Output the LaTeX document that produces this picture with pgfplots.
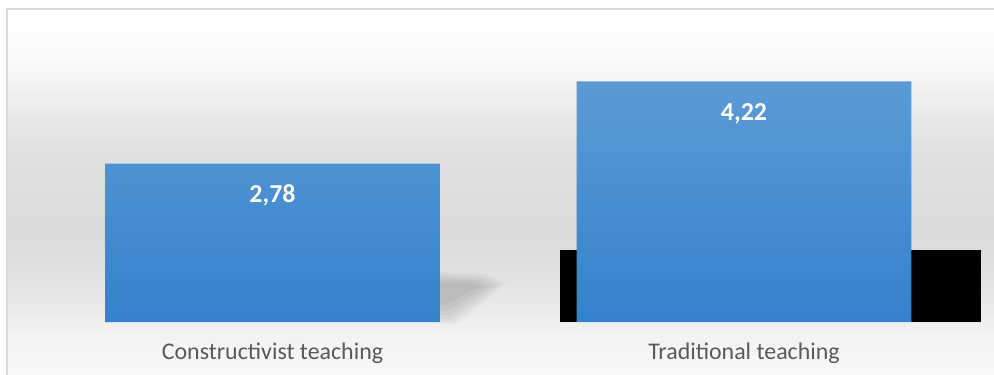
\documentclass[border=0pt]{standalone}
\usepackage{pgfplots}
\pgfplotsset{compat=1.18}
\usepackage{fontspec}
\setmainfont{Carlito}
\definecolor{labelgray}{HTML}{595959}
\definecolor{frameline}{HTML}{D9D9D9}
\definecolor{barTop}{HTML}{5B9BD6}
\definecolor{barMid}{HTML}{5396D4}
\definecolor{barBot}{HTML}{3482CB}
\pgfdeclareverticalshading{bgshade}{100bp}{%
 rgb(0bp)=(0.972,0.972,0.972);
 rgb(27.6bp)=(0.972,0.972,0.972);
 rgb(32.66bp)=(0.953,0.953,0.953);
 rgb(37.21bp)=(0.91,0.91,0.91);
 rgb(45.65bp)=(0.851,0.851,0.851);
 rgb(56.69bp)=(0.878,0.878,0.878);
 rgb(68.38bp)=(0.98,0.98,0.98);
 rgb(75bp)=(1,1,1);
 rgb(100bp)=(1,1,1)}
\begin{document}
\begin{tikzpicture}[x=1bp,y=1bp]
\useasboundingbox (0,0) rectangle (994,374);
\fill[white] (0,0) rectangle (994,374);
\shade[shading=bgshade] (7,-20) rectangle (1010,365);
\draw[frameline, line width=1.2bp] (7,-20) -- (7,365) -- (1010,365);
\begin{axis}[
  at={(36.75bp,52bp)}, anchor=south west,
  scale only axis, width=943bp, height=285bp,
  xmin=-0.5, xmax=1.5, ymin=0, ymax=5,
  axis line style={draw=none}, tick style={draw=none},
  ytick=\empty,
  xtick={0,1},
  xticklabels={Constructivist teaching, Traditional teaching},
  xticklabel style={anchor=base, yshift=-37bp, font=\fontsize{24}{28}\selectfont, text=labelgray},
  clip=false,
]
% soft shadow of the first bar (layered to look blurred)
\begin{scope}[black, opacity=0.03]
\fill (axis cs:0.355,-0.02) -- (axis cs:0.355,0.88) -- (axis cs:0.455,0.84) -- (axis cs:0.495,0.68) -- (axis cs:0.39,-0.04) -- cycle;
\fill (axis cs:0.355,0.0) -- (axis cs:0.355,0.84) -- (axis cs:0.45,0.80) -- (axis cs:0.485,0.665) -- (axis cs:0.385,0.0) -- cycle;
\fill (axis cs:0.355,0.05) -- (axis cs:0.355,0.80) -- (axis cs:0.445,0.77) -- (axis cs:0.475,0.65) -- (axis cs:0.38,0.05) -- cycle;
\fill (axis cs:0.355,0.12) -- (axis cs:0.355,0.76) -- (axis cs:0.44,0.735) -- (axis cs:0.465,0.64) -- (axis cs:0.375,0.12) -- cycle;
\fill (axis cs:0.355,0.2) -- (axis cs:0.355,0.72) -- (axis cs:0.43,0.70) -- (axis cs:0.455,0.63) -- (axis cs:0.37,0.2) -- cycle;
\fill (axis cs:0.355,0.3) -- (axis cs:0.355,0.68) -- (axis cs:0.42,0.67) -- (axis cs:0.44,0.62) -- (axis cs:0.365,0.3) -- cycle;
\end{scope}
% black artefact behind the second bar
\addplot[ybar, bar width=0.893, bar shift=0.0562, fill=black, draw=none] coordinates {(1,1.263)};
% bars
\addplot[ybar, bar width=0.71, bar shift=0, draw=none,
  top color=barTop, middle color=barMid, bottom color=barBot,
  point meta=explicit symbolic, nodes near coords,
  every node near coord/.append style={anchor=base, yshift=-39bp, text=white, fill=none, font=\bfseries\fontsize{26}{30}\selectfont}]
  coordinates {(0,2.78) [2,78] (1,4.22) [4,22]};
\end{axis}
\end{tikzpicture}
\end{document}
